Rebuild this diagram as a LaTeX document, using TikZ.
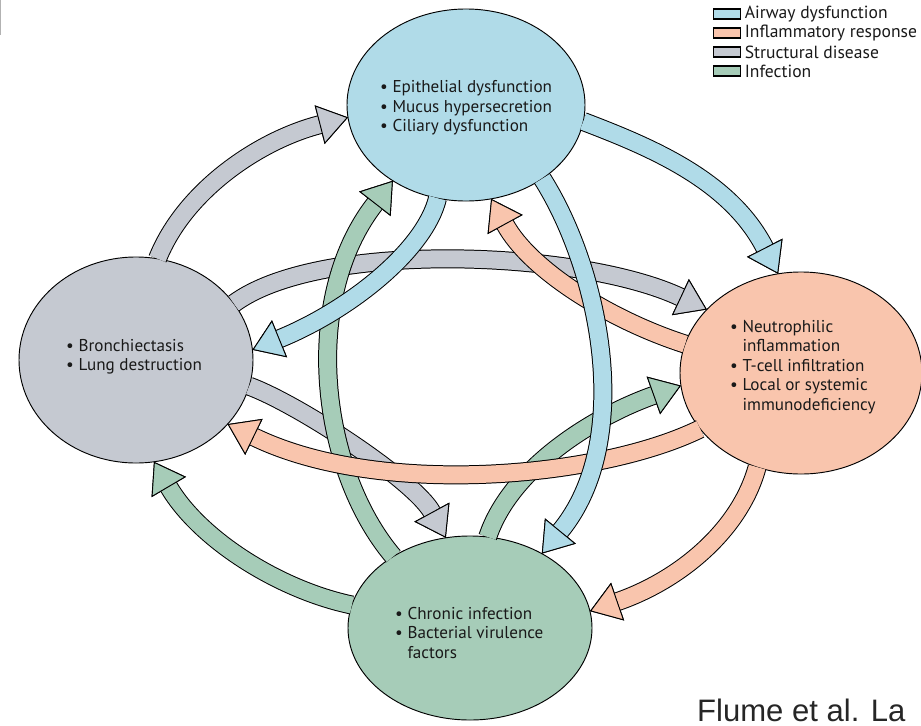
\documentclass[tikz,border=0pt]{standalone}
\usepackage{fontspec}
\setmainfont{PT Sans}
\newfontfamily\citefont{Liberation Sans}
\usetikzlibrary{arrows.meta,shapes.geometric,positioning}
\definecolor{airc}{RGB}{176,219,232}
\definecolor{inflc}{RGB}{249,197,173}
\definecolor{structc}{RGB}{197,201,209}
\definecolor{infc}{RGB}{166,204,184}
\tikzset{
  blob/.style={ellipse, draw=black, line width=0.8pt, inner sep=0pt, outer sep=0pt},
  lst/.style={align=left, inner sep=0pt, anchor=west, text=black!90, font=\fontsize{14.6}{16.6}\selectfont},
  legbox/.style={draw=black, line width=1.2pt, minimum width=0.8cm, minimum height=0.3cm, inner sep=0pt},
  legtxt/.style={inner sep=0pt, text=black!90, font=\fontsize{15}{17}\selectfont},
  tip/.style={-{Triangle[length=25pt, width=34pt, line width'=0.8pt, color=black, fill=#1]}},
  rim/.style={line width=16.2pt, black, tip=black},
  band/.style={line width=14.5pt, #1, tip=#1},
}
% colour, from, control, control, to
\newcommand\fatarrow[5]{%
  \draw[rim] #2 .. controls #3 and #4 .. #5;
  \draw[band=#1] #2 .. controls #3 and #4 .. #5;
}
\begin{document}
\begin{tikzpicture}[x=0.03cm,y=-0.03cm]
  \useasboundingbox (0,0) rectangle (921,726);
  \draw[gray!60, line width=1.2pt] (0.6,0) -- (0.6,35);
  % the four circles
  \node[blob, fill=airc, minimum width=7.14cm, minimum height=5.76cm] (air) at (466,105) {};
  \node[blob, fill=structc, minimum width=7.02cm, minimum height=6.18cm] (struct) at (136,360) {};
  \node[blob, fill=inflc, minimum width=7.26cm, minimum height=6.06cm] (infl) at (801,373) {};
  \node[blob, fill=infc, minimum width=7.32cm, minimum height=5.52cm] (infect) at (470,628) {};
  % structural disease
  \fatarrow{structc}{(struct.78)}{(185,190)}{(260,140)}{(air.186)}
  \fatarrow{structc}{(struct.30)}{(320,240)}{(580,250)}{(infl.146)}
  \fatarrow{structc}{(struct.-13)}{(300,405)}{(415,481)}{(infect.105)}
  % infection
  \fatarrow{infc}{(infect.169)}{(280,590)}{(200,540)}{(struct.-80)}
  \fatarrow{infc}{(infect.137)}{(320,470)}{(300,300)}{(air.-134)}
  \fatarrow{infc}{(infect.79)}{(510,470)}{(590,418)}{(infl.186)}
  % inflammatory response
  \fatarrow{inflc}{(infl.166)}{(610,320)}{(530,270)}{(air.-75)}
  \fatarrow{inflc}{(infl.-151)}{(600,478)}{(380,498)}{(struct.-35)}
  \fatarrow{inflc}{(infl.-115)}{(740,530)}{(680,580)}{(infect.8)}
  % airway dysfunction
  \fatarrow{airc}{(air.-8)}{(650,147)}{(730,180)}{(infl.103)}
  \fatarrow{airc}{(air.-107)}{(425,250)}{(350,310)}{(struct.5)}
  \fatarrow{airc}{(air.-44)}{(600,270)}{(635,440)}{(infect.46)}
  % texts
  \node[lst] (airtxt) at (380,108) {• Epithelial dysfunction\\• Mucus hypersecretion\\• Ciliary dysfunction};
  \node[lst] (structtxt) at (66,357) {• Bronchiectasis\\• Lung destruction};
  \node[lst] (infltxt) at (730,367) {• Neutrophilic\\\phantom{• }inflammation\\• T-cell infiltration\\• Local or systemic\\\phantom{• }immunodeficiency};
  \node[lst] (infecttxt) at (395,633) {• Chronic infection\\• Bacterial virulence\\\phantom{• }factors};
  % legend
  \foreach \c/\t [count=\i] in {airc/Airway dysfunction,inflc/Inflammatory response,structc/Structural disease,infc/Infection}{
    \node[legbox, fill=\c] (box\i) at (727,{19*\i-5}) {};
    \node[legtxt, right=3pt of box\i] (leg\i) {\t};
  }
  \node[anchor=base west, inner sep=0pt, text=black!85, font=\citefont\fontsize{26.5}{30}\selectfont] (cite) at (697,721) {Flume et al. La};
\end{tikzpicture}
\end{document}
